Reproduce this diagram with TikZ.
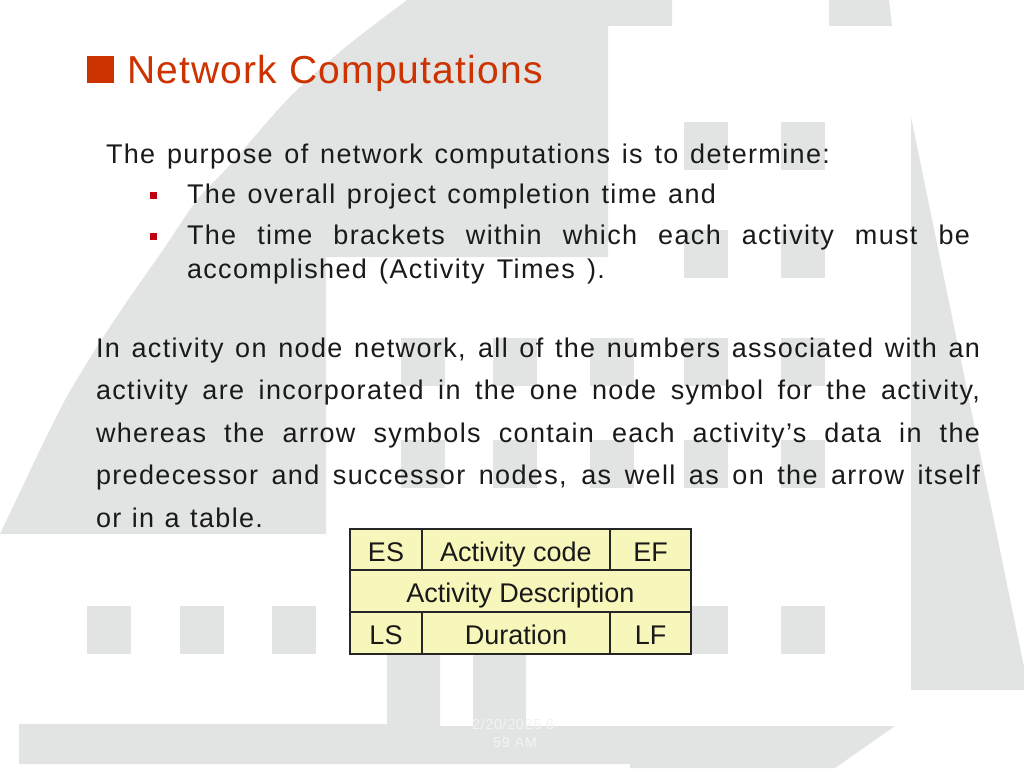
\documentclass[tikz,border=0pt]{standalone}
\usepackage{fontspec}
\setmainfont{Liberation Sans}
\newfontfamily\bodyfont[LetterSpace=5]{Liberation Sans}
\newfontfamily\titlefont[LetterSpace=3]{Liberation Sans}
\newfontfamily\datefont[LetterSpace=4]{Liberation Sans}
\definecolor{bggray}{HTML}{E2E4E4}
\definecolor{titleorange}{HTML}{CC3300}
\definecolor{bulletred}{HTML}{C00010}
\definecolor{cellfill}{HTML}{F7F7BC}
\definecolor{bodytext}{HTML}{1A1A1A}
\definecolor{datetext}{HTML}{F2F3F3}
\tikzset{
  x=1pt,y=-1pt,
  bgshape/.style={fill=bggray,draw=none},
  txtline/.style={anchor=base west,inner sep=0pt,outer sep=0pt,text=bodytext,font=\bodyfont\fontsize{27}{30}\selectfont},
  tcell/.style={draw=black!85,line width=1.6pt,fill=cellfill,inner sep=0pt,outer sep=0pt,text=black!90,
    font=\fontsize{27}{30}\selectfont,text height=22pt,text depth=0pt},
  bullet/.style={fill=bulletred,draw=none,inner sep=0pt,minimum width=7pt,minimum height=7pt},
  datestyle/.style={anchor=base west,inner sep=0pt,text=datetext,font=\datefont\fontsize{14.5}{16}\selectfont}
}
\newcommand{\sqblock}[2]{\fill[bggray] (#1,#2) rectangle ++(44,48);}
\newcommand{\just}[2]{\makebox[#1pt][s]{#2}}
\begin{document}
\begin{tikzpicture}
\useasboundingbox (0,0) rectangle (1024,768);
\fill[white] (0,0) rectangle (1024,768);
% big background shape
\path[bgshape] plot[smooth,tension=0.5] coordinates {(0,534) (40,450) (65,400) (95,350) (128,300) (163,250) (197,200) (230,165) (287,100) (342,50) (407,0)}
  -- (672,0) -- (672,26) -- (608,26) -- (608,257) -- (326,257) -- (326,534) -- cycle;
\path[bgshape] (829,0) -- (889,0) -- (892,26) -- (829,26) -- cycle;
\path[bgshape] (911,117) -- (1024,667) -- (1024,690) -- (911,690) -- cycle;
\path[bgshape] (19,724) -- (387,724) -- (387,600) -- (440,600) -- (440,726) -- (473,726) -- (473,600) -- (526,600) -- (526,726) -- (895,726) -- (835,768) -- (630,768) -- (630,764) -- (19,764) -- cycle;
% small blocks
\foreach \px in {684,781}{\sqblock{\px}{122}\sqblock{\px}{230}}
\foreach \px in {401,493,590,684,781}{\sqblock{\px}{338}\sqblock{\px}{440}}
\foreach \px in {87,180,272,684,781}{\sqblock{\px}{606}}
% title
\node[fill=titleorange,inner sep=0pt,minimum width=27pt,minimum height=27pt,anchor=north west] (titlemark) at (87,56) {};
\node[anchor=base west,inner sep=0pt,text=titleorange,font=\titlefont\fontsize{39}{44}\selectfont] (title) at (127,83) {Network Computations};
% text
\node[txtline] (l1) at (106,163) {\just{724}{The purpose of network computations is to determine:}};
\node[bullet] (b1) at (153.5,195.5) {};
\node[txtline] (l2) at (187,203.5) {\just{529}{The overall project completion time and}};
\node[bullet] (b2) at (153.5,236.5) {};
\node[txtline] (l3) at (187,244) {\just{783}{The time brackets within which each activity must be}};
\node[txtline] (l4) at (187,278) {\just{418}{accomplished (Activity Times ).}};
\node[txtline] (p1) at (96,357) {\just{884}{In activity on node network, all of the numbers associated with an}};
\node[txtline] (p2) at (96,399) {\just{884}{activity are incorporated in the one node symbol for the activity,}};
\node[txtline] (p3) at (96,442) {\just{884}{whereas the arrow symbols contain each activity’s data in the}};
\node[txtline] (p4) at (96,484) {\just{884}{predecessor and successor nodes, as well as on the arrow itself}};
\node[txtline] (p5) at (96,527) {\just{167}{or in a table.}};
% table
\node[tcell,minimum width=72pt,minimum height=41pt,text height=23pt] (es) at (386,549.5) {ES};
\node[tcell,minimum width=188pt,minimum height=41pt,text height=23pt] (code) at (516,549.5) {Activity code};
\node[tcell,minimum width=81pt,minimum height=41pt,text height=23pt] (ef) at (650.5,549.5) {EF};
\node[tcell,minimum width=341pt,minimum height=42pt] (desc) at (520.5,591) {Activity Description};
\node[tcell,minimum width=72pt,minimum height=42pt] (ls) at (386,633) {LS};
\node[tcell,minimum width=188pt,minimum height=42pt] (dur) at (516,633) {Duration};
\node[tcell,minimum width=81pt,minimum height=42pt] (lf) at (650.5,633) {LF};
% date
\node[datestyle] (d1) at (472,729) {2/20/2025 6:};
\node[datestyle] (d2) at (493,747) {59 AM};
\end{tikzpicture}
\end{document}
